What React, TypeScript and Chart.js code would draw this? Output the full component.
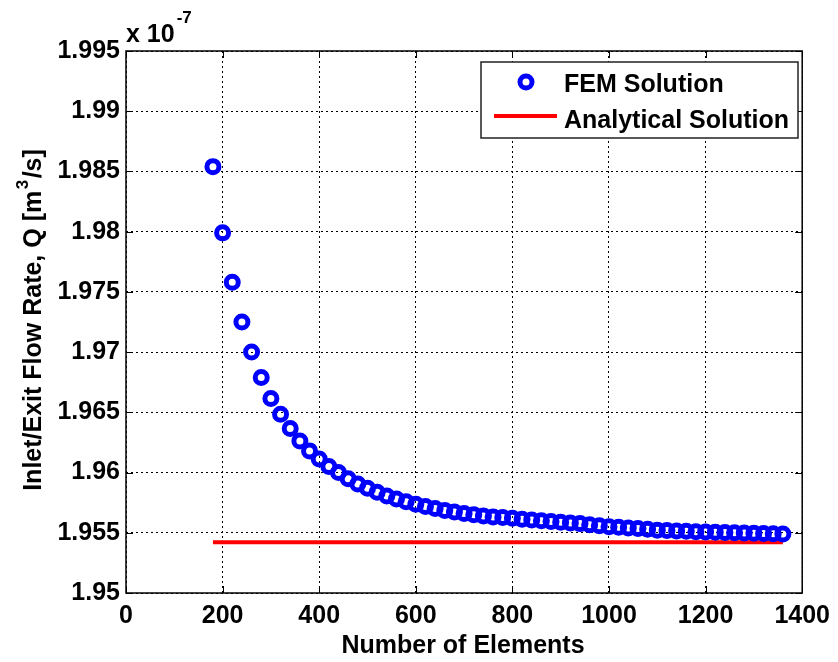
import React, { useEffect, useRef } from "react";
import { Chart, registerables } from "chart.js";

Chart.register(...registerables);

// Mesh sizes used in the convergence study
const elementCounts = [
  180, 200, 220, 240, 260, 280, 300, 320, 340, 360,
  380, 400, 420, 440, 460, 480, 500, 520, 540, 560,
  580, 600, 620, 640, 660, 680, 700, 720, 740, 760,
  780, 800, 820, 840, 860, 880, 900, 920, 940, 960,
  980, 1000, 1020, 1040, 1060, 1080, 1100, 1120, 1140, 1160,
  1180, 1200, 1220, 1240, 1260, 1280, 1300, 1320, 1340, 1360,
];

// FEM flow rate, in units of 1e-7 m^3/s
const femFlowRate = [
  1.9854, 1.9799, 1.9758, 1.9725, 1.97, 1.9679, 1.96615, 1.96485, 1.96365, 1.96262,
  1.9618, 1.96112, 1.9605, 1.96, 1.95948, 1.95905, 1.9587, 1.95836, 1.95806, 1.9578,
  1.95758, 1.95737, 1.95718, 1.95701, 1.95686, 1.95672, 1.9566, 1.95649, 1.9564, 1.95632,
  1.95626, 1.9562, 1.95613, 1.95606, 1.956, 1.95594, 1.95588, 1.95582, 1.95576, 1.95566,
  1.95558, 1.9555, 1.95545, 1.9554, 1.95535, 1.9553, 1.95522, 1.95518, 1.95515, 1.95512,
  1.95509, 1.95506, 1.95504, 1.95502, 1.955, 1.95498, 1.95496, 1.95494, 1.95492, 1.95489,
];

// Analytical flow rate (same units), spanning the studied mesh range
const analyticalRange = [180, 1360];
const analyticalFlowRate = [1.95422, 1.95422];

const xTickValues = [0, 200, 400, 600, 800, 1000, 1200, 1400];
const yTickValues = [1.95, 1.955, 1.96, 1.965, 1.97, 1.975, 1.98, 1.985, 1.99, 1.995];

const seriesNames = ["FEM Solution", "Analytical Solution"];
const xTitle = "Number of Elements";
const yTitleMain = "Inlet/Exit Flow Rate, Q [m";
const yTitleSup = "3";
const yTitleEnd = "/s]";
const exponentBase = "x 10";
const exponentPower = "-7";

const FONT = '"Liberation Sans", Arial, sans-serif';
const FS = 25;
const BLUE = "#0000ff";
const RED = "#ff0000";

const framePlugin = {
  id: "frameAndLabels",
  afterDraw(chart: any) {
    const { ctx, chartArea, scales } = chart;
    const { left, right, top, bottom } = chartArea;
    const xs = scales.x;
    const ys = scales.y;
    ctx.save();

    // inward tick marks on all four sides
    ctx.strokeStyle = "#000";
    ctx.lineWidth = 1;
    const seg = (x1: number, y1: number, x2: number, y2: number) => {
      ctx.beginPath();
      ctx.moveTo(x1, y1);
      ctx.lineTo(x2, y2);
      ctx.stroke();
    };
    const tl = 7;
    xs.ticks.forEach((t: any) => {
      const px = Math.round(xs.getPixelForValue(t.value)) + 0.5;
      seg(px, bottom, px, bottom - tl);
      seg(px, top, px, top + tl);
    });
    ys.ticks.forEach((t: any) => {
      const py = Math.round(ys.getPixelForValue(t.value)) + 0.5;
      seg(left, py, left + tl, py);
      seg(right, py, right - tl, py);
    });

    // axes box
    ctx.lineWidth = 1.5;
    ctx.strokeRect(left, top, right - left, bottom - top);

    // legend
    const lx = 481, ly = 62, lw = 317, lh = 76;
    ctx.fillStyle = "#fff";
    ctx.fillRect(lx, ly, lw, lh);
    ctx.strokeStyle = "#222";
    ctx.lineWidth = 1.5;
    ctx.strokeRect(lx, ly, lw, lh);

    ctx.strokeStyle = BLUE;
    ctx.lineWidth = 5;
    ctx.beginPath();
    ctx.arc(526, 82, 6, 0, Math.PI * 2);
    ctx.stroke();

    ctx.strokeStyle = RED;
    ctx.lineWidth = 4;
    seg(494, 116, 557, 116);

    ctx.fillStyle = "#000";
    ctx.font = `bold ${FS}px ${FONT}`;
    ctx.textAlign = "left";
    ctx.textBaseline = "alphabetic";
    ctx.fillText(seriesNames[0], 564, 92);
    ctx.fillText(seriesNames[1], 564, 128);

    // x axis title
    ctx.textAlign = "center";
    ctx.fillText(xTitle, 463, 653);

    // exponent label above the y axis
    ctx.textAlign = "left";
    ctx.font = `bold ${FS}px ${FONT}`;
    ctx.fillText(exponentBase, 126, 42);
    const bw = ctx.measureText(exponentBase).width;
    ctx.font = `bold 17px ${FONT}`;
    ctx.fillText(exponentPower, 126 + bw + 2, 23);

    // y axis title, rotated, with superscript exponent
    ctx.translate(41, 320);
    ctx.rotate(-Math.PI / 2);
    ctx.font = `bold ${FS}px ${FONT}`;
    const w1 = ctx.measureText(yTitleMain).width;
    const w3 = ctx.measureText(yTitleEnd).width;
    ctx.font = `bold 17px ${FONT}`;
    const w2 = ctx.measureText(yTitleSup).width + 3;
    const total = w1 + w2 + w3;
    let cx = -total / 2;
    ctx.font = `bold ${FS}px ${FONT}`;
    ctx.fillText(yTitleMain, cx, 0);
    cx += w1;
    ctx.font = `bold 17px ${FONT}`;
    ctx.fillText(yTitleSup, cx + 1.5, -13);
    cx += w2;
    ctx.font = `bold ${FS}px ${FONT}`;
    ctx.fillText(yTitleEnd, cx, 0);

    ctx.restore();
  },
};

export default function App() {
  const canvasRef = useRef<HTMLCanvasElement | null>(null);

  useEffect(() => {
    if (!canvasRef.current) return;
    const chart = new Chart(canvasRef.current, {
      type: "scatter",
      data: {
        datasets: [
          {
            label: seriesNames[0],
            data: elementCounts.map((n, i) => ({ x: n, y: femFlowRate[i] })),
            pointStyle: "circle",
            pointRadius: 6,
            pointBorderWidth: 5,
            pointBorderColor: BLUE,
            pointBackgroundColor: "rgba(0,0,0,0)",
            showLine: false,
            order: 1,
          },
          {
            label: seriesNames[1],
            data: analyticalRange.map((n, i) => ({ x: n, y: analyticalFlowRate[i] })),
            showLine: true,
            borderColor: RED,
            borderWidth: 4,
            pointRadius: 0,
            order: 2,
          },
        ],
      },
      options: {
        animation: false,
        responsive: false,
        layout: { padding: { top: 51, right: 32, left: 0, bottom: 0 } },
        plugins: {
          legend: { display: false },
          tooltip: { enabled: false },
        },
        scales: {
          x: {
            type: "linear",
            min: 0,
            max: 1400,
            afterFit: (s: any) => {
              s.height = 69;
            },
            afterBuildTicks: (s: any) => {
              s.ticks = xTickValues.map((v) => ({ value: v }));
            },
            ticks: {
              color: "#000",
              padding: 8,
              font: { family: FONT, size: FS, weight: "bold" },
              callback: (v: any) => String(v),
            },
            grid: {
              color: "#000",
              lineWidth: 1,
              drawTicks: false,
            },
            border: { display: false, dash: [2, 3] },
          },
          y: {
            type: "linear",
            min: 1.95,
            max: 1.995,
            afterFit: (s: any) => {
              s.width = 126;
            },
            afterBuildTicks: (s: any) => {
              s.ticks = yTickValues.map((v) => ({ value: v }));
            },
            ticks: {
              color: "#000",
              padding: 6,
              font: { family: FONT, size: FS, weight: "bold" },
              callback: (v: any) => String(Number(Number(v).toFixed(3))),
            },
            grid: {
              color: "#000",
              lineWidth: 1,
              drawTicks: false,
            },
            border: { display: false, dash: [2, 3] },
          },
        },
      },
      plugins: [framePlugin],
    } as any);
    return () => chart.destroy();
  }, []);

  return (
    <div style={{ position: "fixed", left: 0, top: 0, width: 838, height: 662, background: "#fff" }}>
      <canvas ref={canvasRef} width={838} height={662} />
    </div>
  );
}
